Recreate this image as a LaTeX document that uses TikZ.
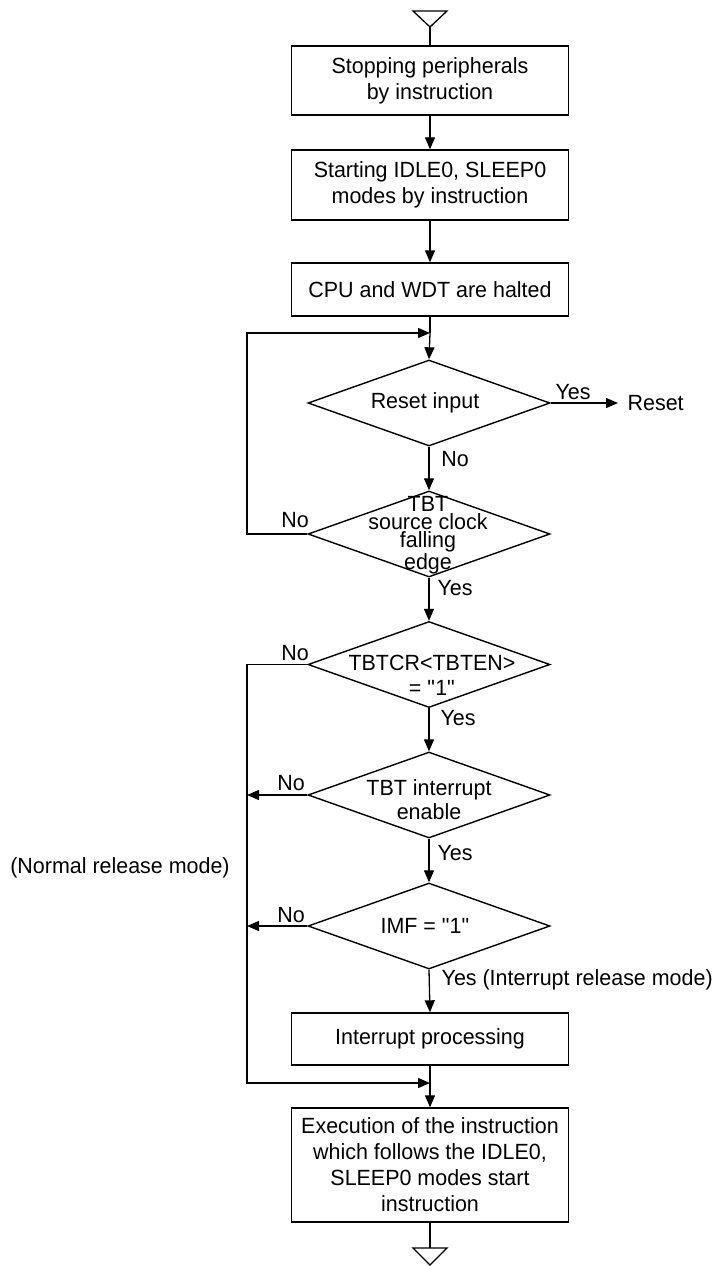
\documentclass[tikz,border=0pt]{standalone}
\usepackage{fontspec}
\setmainfont{Liberation Sans}[FakeStretch=0.975]
\usetikzlibrary{shapes.geometric,arrows.meta}
\begin{document}
\begin{tikzpicture}[x=1pt,y=-1pt,
  line width=1.3pt,
  txt/.style={font=\fontsize{22}{26}\selectfont, inner sep=0pt, align=center},
  box/.style={draw, rectangle, minimum width=277pt, inner sep=0pt, line width=1.4pt, font=\fontsize{22}{26}\selectfont, align=center},
  dia/.style={draw, diamond, minimum width=242pt, minimum height=86pt, inner sep=0pt, line width=1.4pt},
  arr/.style={-{Triangle[length=12pt,width=10pt]}},
]
\useasboundingbox (0,0) rectangle (716,1266);

% start / end markers
\draw (413,11) -- (447,11) -- (430,27) -- cycle;
\coordinate (tin) at (430,27);
\coordinate (tout) at (430,1248);
\draw (413,1248) -- (447,1248) -- (430,1265) -- cycle;

% boxes
\node[box, minimum height=69pt] (b1) at (430,80.5) {Stopping peripherals\\by instruction};
\node[box, minimum height=70pt] (b2) at (430,185) {Starting IDLE0, SLEEP0\\modes by instruction};
\node[box, minimum height=53pt] (b3) at (430,289.5) {CPU and WDT are halted};
\node[box, minimum height=52pt] (b4) at (430,1039) {Interrupt processing};
\node[box, minimum height=114pt] (b5) at (430,1165) {Execution of the instruction\\which follows the IDLE0,\\SLEEP0 modes start\\instruction};

% diamonds
\node[dia] (d1) at (429,403) {};
\node[dia] (d2) at (429,534) {};
\node[dia] (d3) at (429,664.5) {};
\node[dia] (d4) at (429,795) {};
\node[dia] (d5) at (429,926) {};

\node[txt] (d1t) at (425,403) {Reset input};
\node[txt, font=\fontsize{22}{18}\selectfont] (d2t) at (428,535) {TBT\\source clock\\falling\\edge};
\node[txt, font=\fontsize{22}{25}\selectfont] (d3t) at (432,675) {TBTCR<TBTEN>\\= \textquotedbl 1\textquotedbl};
\node[txt, font=\fontsize{22}{24}\selectfont] (d4t) at (429,800) {TBT interrupt\\enable};
\node[txt] (d5t) at (425,926) {IMF = \textquotedbl 1\textquotedbl};

\node[txt, anchor=west] (reset) at (627,403) {Reset};

% junctions and loop corners
\coordinate (j1) at (430,333);
\coordinate (j2) at (430,1083);
\coordinate (lA) at (247,534);
\coordinate (lB) at (247,664.5);
\coordinate (lC) at (247,1083);
\coordinate (lD) at (247,795);
\coordinate (lE) at (247,926);

% connectors
\draw (tin) -- (b1.north);
\draw[arr] (b1) -- (b2);
\draw[arr] (b2) -- (b3);
\draw (b3.south) -- (j1);
\draw[arr] (j1) -- (d1.north);
\draw[arr] (d1.east) -- ([xshift=-9pt]reset.west);
\draw[arr] (d1.south) -- (d2.north);
\draw[arr] (d2.west) -- (lA) -- (lA |- j1) -- (j1);
\draw[arr] (d2.south) -- (d3.north);
\draw[arr] (d3.west) -- (lB) -- (lC) -- (j2);
\draw[arr] (d3.south) -- (d4.north);
\draw[arr] (d4.west) -- (lD);
\draw[arr] (d4.south) -- (d5.north);
\draw[arr] (d5.west) -- (lE);
\draw[arr] (d5.south) -- (b4.north);
\draw (b4.south) -- (j2);
\draw[arr] (j2) -- (b5.north);
\draw (b5.south) -- (tout);

% labels
\node[txt] (y1) at (573,392) {Yes};
\node[txt] (n1) at (455,459) {No};
\node[txt] (n2) at (295,520) {No};
\node[txt] (y2) at (455,588) {Yes};
\node[txt] (n3) at (295,653) {No};
\node[txt] (y3) at (458,718) {Yes};
\node[txt] (n4) at (291,783) {No};
\node[txt] (y4) at (455,853) {Yes};
\node[txt] (n5) at (291,915) {No};
\node[txt, anchor=west] (y5) at (441,980) {Yes (Interrupt release mode)};
\node[txt] (nrm) at (120,868) {(Normal release mode)};
\end{tikzpicture}
\end{document}
